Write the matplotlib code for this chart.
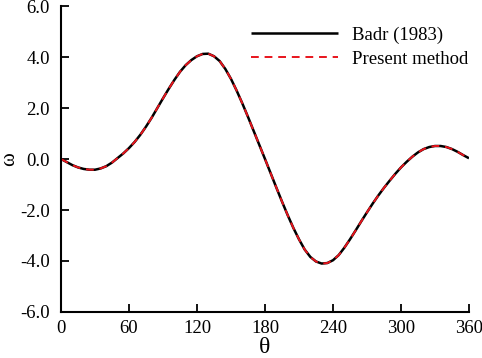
import matplotlib
matplotlib.use("Agg")
import matplotlib.pyplot as plt

theta = list(range(0, 365, 5))
omega_badr = [0.00, -0.12, -0.24, -0.33, -0.39, -0.42, -0.42, -0.37, -0.28, -0.14,
              0.04, 0.22, 0.43, 0.67, 0.95, 1.27, 1.62, 2.00, 2.38, 2.75,
              3.10, 3.42, 3.68, 3.88, 4.03, 4.12, 4.13, 4.03, 3.84, 3.53,
              3.14, 2.68, 2.18, 1.65, 1.10, 0.55, 0.00, -0.56, -1.12, -1.67,
              -2.20, -2.70, -3.15, -3.55, -3.84, -4.02, -4.10, -4.08, -3.97, -3.77,
              -3.48, -3.15, -2.80, -2.44, -2.09, -1.75, -1.43, -1.13, -0.85, -0.58,
              -0.33, -0.11, 0.09, 0.26, 0.39, 0.47, 0.51, 0.51, 0.47, 0.39,
              0.28, 0.15, 0.03]
omega_present = list(omega_badr)

xticks = [0, 60, 120, 180, 240, 300, 360]
yticks = [-6.0, -4.0, -2.0, 0.0, 2.0, 4.0, 6.0]

plt.rcParams['font.family'] = ['Liberation Serif', 'DejaVu Serif']
plt.rcParams['axes.unicode_minus'] = False

fig = plt.figure(figsize=(4.82, 3.58), dpi=100)
ax = fig.add_axes([0.1266, 0.1285, 0.8464, 0.8547])

ax.plot(theta, omega_badr, color='black', lw=1.8, label='Badr (1983)', solid_capstyle='butt')
ax.plot(theta, omega_present, color='#e8141c', lw=1.4, ls=(0, (4, 3)), label='Present method')

ax.set_xlim(0, 360)
ax.set_ylim(-6, 6)
ax.set_xticks(xticks)
ax.set_yticks(yticks)
ax.set_xticklabels([str(t) for t in xticks])
ax.set_yticklabels(['%.1f' % v for v in yticks])
for s in ['top', 'right']:
    ax.spines[s].set_visible(False)
for s in ['left', 'bottom']:
    ax.spines[s].set_linewidth(1.5)
ax.tick_params(direction='in', length=6, width=1.3, labelsize=13.5)
ax.tick_params(axis='y', pad=8)
ax.tick_params(axis='x', pad=6)
ax.set_xlabel('θ', fontsize=17, labelpad=0)
ax.set_ylabel('ω', fontsize=15, labelpad=1)

leg = ax.legend(loc='upper right', frameon=False, fontsize=13.5, handlelength=4.6,
                handletextpad=0.75, labelspacing=0.36, borderaxespad=0.2,
                bbox_to_anchor=(1.025, 0.97))

fig.savefig('out.png', dpi=100)
